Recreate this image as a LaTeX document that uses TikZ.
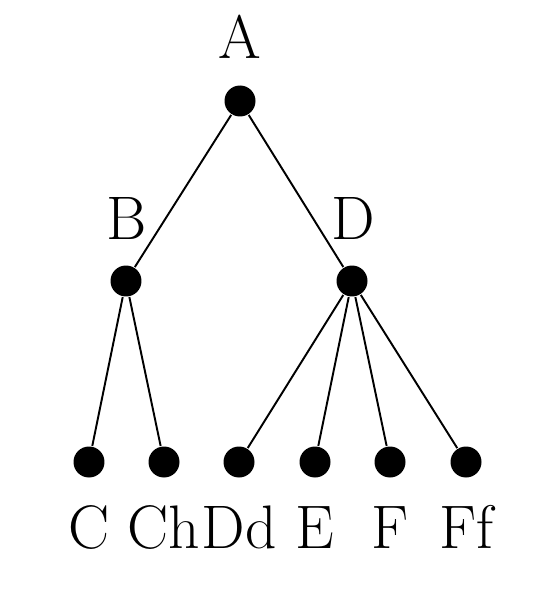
\documentclass[tikz,border=0pt]{standalone}
\begin{document}
\begin{tikzpicture}[x=0.02cm, y=-0.02cm, line width=1.1pt,
    dot/.style={circle, fill, inner sep=0pt, minimum size=0.62cm},
    letter/.style={anchor=base, inner sep=0pt, font=\fontsize{35}{40}\selectfont}]
    \useasboundingbox (0,0) rectangle (540,594);
    
    % Root
    \node[dot] (A) at (240,101) {};
    \node[letter] (labA) at (240,59) {A};
    
    % Inner nodes
    \node[dot] (B) at (126,281) {};
    \node[letter] (labB) at (127,239) {B};
    \node[dot] (D) at (352,281) {};
    \node[letter] (labD) at (353,239) {D};
    \draw (A) -- (B);
    \draw (A) -- (D);
    
    % Leaves
    \node[dot] (C) at (89,462) {};
    \node[dot] (Ch) at (164,462) {};
    \node[dot] (Dd) at (239,462) {};
    \node[dot] (E) at (315,462) {};
    \node[dot] (F) at (390,462) {};
    \node[dot] (Ff) at (466,462) {};
    \draw (B) -- (C);
    \draw (B) -- (Ch);
    \draw (D) -- (Dd);
    \draw (D) -- (E);
    \draw (D) -- (F);
    \draw (D) -- (Ff);
    
    % Labels
    \node[letter] (labC) at (89,548) {C};
    \node[letter] (labCh) at (164,548) {Ch};
    \node[letter] (labDd) at (239,548) {Dd};
    \node[letter] (labE) at (315,548) {E};
    \node[letter] (labF) at (390,548) {F};
    \node[letter] (labFf) at (466,548) {Ff};
\end{tikzpicture}
\end{document}
